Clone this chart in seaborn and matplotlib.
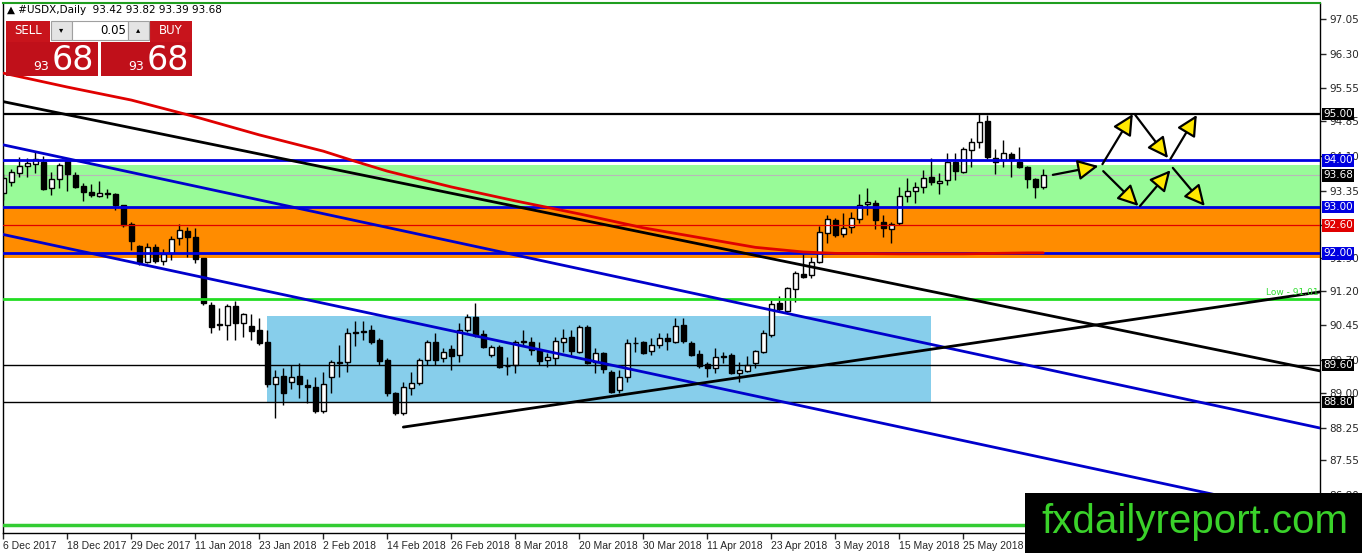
import matplotlib
matplotlib.use("Agg")
import matplotlib.pyplot as plt
from matplotlib.patches import Rectangle, FancyArrowPatch
import numpy as np
import pandas as pd
import seaborn as sns

# daily USDX candles (one value per bar)
opens = [93.30, 93.54, 93.73, 93.88, 93.92, 93.97, 93.41, 93.60, 93.99, 93.69,
         93.45, 93.32, 93.23, 93.29, 93.28, 93.04, 92.63, 92.16, 91.81, 92.14,
         91.84, 92.01, 92.33, 92.48, 92.35, 91.90, 90.89, 90.47, 90.46, 90.87,
         90.50, 90.44, 90.35, 90.09, 89.19, 89.36, 89.23, 89.36, 89.17, 89.12,
         88.61, 89.34, 89.65, 89.66, 90.31, 90.33, 90.35, 90.13, 89.70, 88.99,
         88.56, 89.10, 89.21, 89.70, 90.09, 89.75, 89.94, 89.81, 90.35, 90.63,
         90.26, 89.81, 89.98, 89.58, 89.60, 90.09, 90.09, 89.92, 89.70, 89.75,
         90.09, 90.20, 89.88, 90.41, 89.66, 89.85, 89.45, 89.06, 89.34, 90.07,
         90.09, 89.90, 90.03, 90.18, 90.09, 90.46, 90.07, 89.83, 89.62, 89.53,
         89.79, 89.81, 89.42, 89.47, 89.64, 89.88, 90.24, 90.93, 90.76, 91.23,
         91.56, 91.53, 91.81, 92.44, 92.72, 92.42, 92.57, 92.74, 93.06, 93.08,
         92.67, 92.52, 92.65, 93.23, 93.34, 93.43, 93.64, 93.51, 93.58, 93.97,
         93.75, 94.22, 94.40, 94.85, 94.05, 94.01, 94.14, 93.97, 93.86, 93.60,
         93.42]
closes = [93.62, 93.75, 93.88, 93.95, 94.03, 93.39, 93.60, 93.90, 93.71, 93.43,
          93.32, 93.26, 93.30, 93.28, 93.04, 92.61, 92.27, 91.81, 92.14, 91.84,
          91.99, 92.31, 92.50, 92.35, 91.88, 90.93, 90.41, 90.46, 90.87, 90.50,
          90.69, 90.33, 90.07, 89.19, 89.34, 88.99, 89.34, 89.19, 89.12, 88.61,
          89.19, 89.66, 89.66, 90.29, 90.29, 90.31, 90.09, 89.68, 88.99, 88.56,
          89.12, 89.21, 89.70, 90.09, 89.70, 89.88, 89.79, 90.35, 90.63, 90.24,
          89.98, 89.98, 89.55, 89.57, 90.09, 90.10, 89.92, 89.68, 89.77, 90.11,
          90.18, 89.90, 90.41, 89.64, 89.85, 89.51, 89.02, 89.34, 90.07, 90.06,
          89.85, 90.03, 90.18, 90.11, 90.44, 90.11, 89.81, 89.57, 89.53, 89.77,
          89.77, 89.42, 89.49, 89.60, 89.90, 90.29, 90.91, 90.80, 91.25, 91.58,
          91.49, 91.81, 92.46, 92.74, 92.40, 92.55, 92.76, 93.04, 93.11, 92.72,
          92.55, 92.63, 93.23, 93.34, 93.43, 93.62, 93.54, 93.56, 93.97, 93.77,
          94.25, 94.40, 94.83, 94.07, 93.97, 94.16, 94.01, 93.86, 93.60, 93.43,
          93.68]
highs = [93.71, 93.82, 94.07, 94.05, 94.18, 94.10, 93.75, 93.95, 94.03, 93.75,
         93.51, 93.49, 93.56, 93.39, 93.30, 93.04, 92.67, 92.18, 92.22, 92.20,
         92.09, 92.37, 92.63, 92.57, 92.55, 91.90, 90.95, 90.82, 90.91, 90.97,
         90.72, 90.69, 90.61, 90.35, 89.49, 89.53, 89.60, 89.64, 89.29, 89.34,
         89.45, 89.70, 90.03, 90.39, 90.54, 90.54, 90.46, 90.18, 89.75, 89.02,
         89.23, 89.45, 89.75, 90.13, 90.29, 89.96, 90.03, 90.50, 90.69, 90.93,
         90.35, 90.03, 90.03, 89.77, 90.13, 90.35, 90.20, 90.09, 89.85, 90.20,
         90.37, 90.35, 90.46, 90.46, 89.96, 89.88, 89.49, 89.49, 90.16, 90.20,
         90.11, 90.18, 90.29, 90.29, 90.61, 90.61, 90.11, 89.92, 89.66, 89.96,
         89.88, 89.85, 89.66, 89.79, 89.92, 90.35, 91.00, 91.08, 91.28, 91.62,
         91.99, 91.92, 92.59, 92.83, 92.76, 92.87, 92.89, 93.28, 93.41, 93.15,
         92.83, 92.67, 93.43, 93.62, 93.54, 93.79, 94.05, 93.73, 94.16, 94.16,
         94.29, 94.48, 95.02, 94.98, 94.25, 94.44, 94.18, 94.29, 93.88, 93.62,
         93.82]
lows = [93.15, 93.45, 93.64, 93.64, 93.73, 93.36, 93.26, 93.41, 93.34, 93.41,
        93.13, 93.21, 93.21, 93.19, 92.93, 92.57, 92.07, 91.75, 91.79, 91.79,
        91.75, 91.86, 92.18, 91.92, 91.79, 90.89, 90.29, 90.35, 90.13, 90.13,
        90.20, 90.13, 90.03, 89.12, 88.46, 88.74, 89.08, 88.89, 88.78, 88.56,
        88.56, 88.99, 89.34, 89.45, 90.01, 90.13, 90.05, 89.60, 88.93, 88.52,
        88.52, 88.95, 89.17, 89.60, 89.60, 89.66, 89.49, 89.66, 90.31, 90.20,
        89.96, 89.77, 89.53, 89.38, 89.42, 90.03, 89.81, 89.60, 89.55, 89.60,
        89.88, 89.81, 89.85, 89.62, 89.42, 89.42, 88.99, 88.99, 89.23, 89.88,
        89.83, 89.81, 89.96, 89.92, 90.07, 90.07, 89.79, 89.53, 89.34, 89.42,
        89.64, 89.40, 89.23, 89.45, 89.53, 89.85, 90.20, 90.74, 90.72, 90.95,
        91.47, 91.47, 91.79, 92.22, 92.35, 92.35, 92.44, 92.65, 92.83, 92.52,
        92.35, 92.22, 92.61, 93.11, 93.08, 93.30, 93.47, 93.28, 93.47, 93.58,
        93.73, 93.86, 94.27, 94.03, 93.71, 93.86, 93.64, 93.84, 93.41, 93.19,
        93.39]

# date labels every 8 bars
date_labels = ["6 Dec 2017", "18 Dec 2017", "29 Dec 2017", "11 Jan 2018", "23 Jan 2018",
               "2 Feb 2018", "14 Feb 2018", "26 Feb 2018", "8 Mar 2018", "20 Mar 2018",
               "30 Mar 2018", "11 Apr 2018", "23 Apr 2018", "3 May 2018", "15 May 2018",
               "25 May 2018"]
price_ticks = [97.05, 96.30, 95.55, 94.85, 94.10, 93.35, 92.60, 91.90, 91.20,
               90.45, 89.70, 89.00, 88.25, 87.55, 86.80]
hidden_tick = 92.60  # covered by the red 92.60 tag on the original

# red moving average, sampled at bars
ma_bars = [0, 8, 16, 24, 32, 40, 44, 48, 56, 64, 72, 80, 88, 94, 100, 104, 112, 120, 128, 130]
ma_vals = [95.88, 95.58, 95.30, 94.94, 94.55, 94.20, 93.98, 93.77, 93.43, 93.13, 92.85,
           92.55, 92.31, 92.13, 92.03, 92.00, 91.99, 91.99, 92.01, 92.01]

# trend lines (bar, price) endpoints
black_down = [(-0.4, 95.28), (164.6, 89.47)]
blue_upper = [(-0.4, 94.35), (164.6, 88.24)]
blue_lower = [(-0.4, 92.42), (164.6, 86.32)]
black_up = [(50, 88.26), (164.6, 91.17)]

# scenario arrows (start, end)
arrows = [((131.2, 93.69), (136.9, 93.88)),
          ((137.4, 93.92), (141.2, 95.00)),
          ((141.5, 94.98), (145.6, 94.05)),
          ((145.9, 94.03), (149.2, 94.98)),
          ((137.5, 93.77), (141.9, 93.02)),
          ((142.1, 93.02), (145.9, 93.79)),
          ((146.2, 93.84), (150.2, 93.02))]

green_zone = (93.00, 93.90)
orange_zone = (91.90, 93.00)
box_bars = (33, 116)
box_prices = (88.80, 90.65)
last_price = 93.68
low_line = 91.01
bottom_line = 86.15

df = pd.DataFrame({"open": opens, "high": highs, "low": lows, "close": closes})
df["bar"] = np.arange(len(df))
df["up"] = df["close"] >= df["open"]

sns.set_style("white")
plt.rcParams["font.family"] = ["DejaVu Sans"]

W, H = 1362, 553
fig = plt.figure(figsize=(W / 100, H / 100), dpi=100)
ax = fig.add_axes([3 / W, 1 - 533 / H, 1317 / W, 530 / H])
ax.set_xlim(-0.05, 164.6)
ax.set_ylim(85.98, 97.39)

# zones
ax.axhspan(*green_zone, color="#98FB98", zorder=0.5, lw=0)
ax.axhspan(*orange_zone, color="#FF8C00", zorder=0.5, lw=0)
ax.add_patch(Rectangle((box_bars[0], box_prices[0]), box_bars[1] - box_bars[0],
                       box_prices[1] - box_prices[0], fc="#87CEEB", ec="none", zorder=0.6))

ax.axhline(last_price, color="#B8B8B8", lw=0.8, zorder=0.8)

# candles
ax.vlines(df["bar"], df["low"], df["high"], color="black", lw=1, zorder=2)
body_lo = df[["open", "close"]].min(axis=1)
body_h = (df["close"] - df["open"]).abs().clip(lower=0.015)
ax.bar(df["bar"], body_h, bottom=body_lo, width=0.62,
       color=np.where(df["up"], "white", "black"), edgecolor="black", lw=1, zorder=2.1)

# horizontal levels
ax.axhline(95.00, color="black", lw=1.6, zorder=3)
for lvl in (94.00, 93.00, 92.00):
    ax.axhline(lvl, color="#0000E0", lw=2, zorder=3)
ax.axhline(92.60, color="#E00000", lw=0.9, zorder=3)
ax.axhline(89.60, color="black", lw=1, zorder=3)
ax.axhline(88.80, color="black", lw=1, zorder=3)
ax.axhline(low_line, color="#22DD22", lw=2, zorder=3)
ax.axhline(bottom_line, color="#33CC33", lw=2.5, zorder=3)

for seg, col in ((black_down, "black"), (blue_upper, "#0000CC"),
                 (blue_lower, "#0000CC"), (black_up, "black")):
    xs, ys = zip(*seg)
    ax.plot(xs, ys, color=col, lw=2, zorder=3.2)

sns.lineplot(x=ma_bars, y=ma_vals, color="#E00000", lw=2, ax=ax, zorder=3.1)

for (x0, y0), (x1, y1) in arrows:
    ax.add_patch(FancyArrowPatch((x0, y0), (x1, y1),
                                 arrowstyle="-|>,head_length=0.9,head_width=0.45",
                                 mutation_scale=14, fc="#FFE800", ec="black", lw=1.6,
                                 shrinkA=0, shrinkB=0, zorder=4))

ax.text(164.4, low_line + 0.04, "Low - 91.01", color="#33DD33", fontsize=6.5,
        ha="right", va="bottom", zorder=4)

# axes styling
for s in ("left", "right", "bottom"):
    ax.spines[s].set_color("black")
    ax.spines[s].set_linewidth(1)
ax.spines["top"].set_color("#1F9E1F")
ax.spines["top"].set_linewidth(1.5)

ax.yaxis.tick_right()
ax.set_yticks(price_ticks)
ax.set_yticklabels(["" if p == hidden_tick else f"{p:.2f}" for p in price_ticks])
ax.tick_params(axis="y", direction="out", length=4, width=1, pad=3, labelsize=7.5,
               right=True, left=False)
ax.set_xticks(np.arange(len(date_labels)) * 8)
ax.set_xticklabels(date_labels, ha="left", family="Liberation Sans")
ax.tick_params(axis="x", direction="out", length=4, width=1, pad=2, labelsize=7.5,
               bottom=True)
ax.set_xlabel("")
ax.set_ylabel("")

# highlighted price labels on the right scale
tags = [(95.00, "black"), (94.00, "#0000E0"), (93.68, "black"), (93.00, "#0000E0"),
        (92.60, "#E00000"), (92.00, "#0000E0"), (89.60, "black"), (88.80, "black")]
for p, col in tags:
    ax.text(1.0025, p, f"{p:.2f}", transform=ax.get_yaxis_transform(), color="white",
            fontsize=7.5, ha="left", va="center", zorder=6, clip_on=False,
            bbox=dict(boxstyle="square,pad=0.12", fc=col, ec="none"))


# chart header and trade panel (pixel positions from top-left)
def px_rect(x0, y0, x1, y1, fc, ec="none"):
    fig.add_artist(Rectangle((x0 / W, 1 - y1 / H), (x1 - x0) / W, (y1 - y0) / H,
                             transform=fig.transFigure, fc=fc, ec=ec, lw=0.8, zorder=8))


def px_text(x, y, s, **kw):
    fig.text(x / W, 1 - y / H, s, zorder=9, **kw)


px_text(7, 10, "\u25b2 #USDX,Daily  93.42 93.82 93.39 93.68", fontsize=7.5,
        va="center", ha="left", color="black")
px_rect(6, 21, 50, 42, "#C8141C")
px_rect(150, 21, 192, 42, "#C8141C")
px_rect(51, 21, 72, 40, "#E4E4E4", "#A0A0A0")
px_rect(72, 21, 128, 40, "white", "#A0A0A0")
px_rect(128, 21, 149, 40, "#E4E4E4", "#A0A0A0")
px_rect(6, 42, 98, 76, "#C0101A")
px_rect(101, 42, 192, 76, "#C0101A")
px_text(28, 31, "SELL", fontsize=8.5, color="white", ha="center", va="center")
px_text(171, 31, "BUY", fontsize=8.5, color="white", ha="center", va="center")
px_text(61, 30, "\u25be", fontsize=6, color="black", ha="center", va="center")
px_text(138, 30, "\u25b4", fontsize=6, color="black", ha="center", va="center")
px_text(126, 30, "0.05", fontsize=8.5, color="black", ha="right", va="center")
px_text(49, 70, "93", fontsize=9, color="white", ha="right", va="baseline")
px_text(52, 70, "68", fontsize=24, color="white", ha="left", va="baseline")
px_text(144, 70, "93", fontsize=9, color="white", ha="right", va="baseline")
px_text(147, 70, "68", fontsize=24, color="white", ha="left", va="baseline")

# watermark
px_rect(1025, 493, 1362, 553, "black")
px_text(1195, 522, "fxdailyreport.com", fontsize=29, color="#3AD22A", ha="center",
        va="center", family="Liberation Sans")

fig.savefig("out.png", dpi=100, facecolor="white")
